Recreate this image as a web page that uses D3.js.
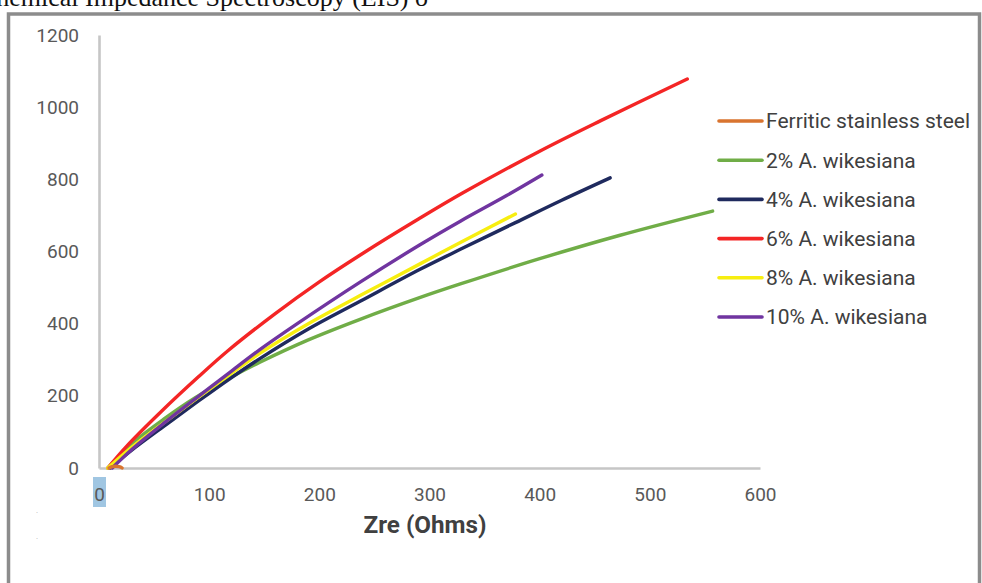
<!DOCTYPE html>
<html>
<head>
<meta charset="utf-8">
<script src="https://cdn.jsdelivr.net/npm/d3@7"></script>
<style>
  html, body { margin: 0; padding: 0; background: #fff; }
  svg { display: block; }
</style>
</head>
<body>
<div id="chart"></div>
<script>
// ----------------------------
// Data (Nyquist curves)
// ----------------------------
const seriesNames = [
  'Ferritic stainless steel',
  '2% A. wikesiana',
  '4% A. wikesiana',
  '6% A. wikesiana',
  '8% A. wikesiana',
  '10% A. wikesiana'
];
const seriesColors = ['#d9742f', '#70ad47', '#1f2a5e', '#f42525', '#f7ee10', '#7035a0'];

const ferritic = [[9, 0], [12, 4], [15, 5], [18, 4], [20, 2], [21, 0]];
const aw2 = [[8, 0], [30, 68], [60, 138], [87, 194], [120, 252], [146, 293], [190, 355], [237, 412], [291, 472], [328, 510], [400, 580], [473, 645], [557, 712]];
const aw4 = [[10, 0], [30, 50], [60, 118], [90, 185], [120, 250], [146, 303], [190, 385], [237, 462], [291, 550], [328, 606], [378, 680], [420, 742], [464, 804]];
const aw6 = [[8, 0], [25, 60], [57, 158], [90, 252], [117, 325], [160, 428], [200, 516], [240, 596], [290, 690], [330, 762], [400, 878], [455, 962], [534, 1078]];
const aw8 = [[8, 0], [30, 58], [60, 128], [90, 196], [120, 262], [146, 318], [190, 400], [237, 478], [291, 565], [328, 625], [378, 704]];
const aw10 = [[12, 0], [30, 52], [60, 127], [90, 198], [120, 268], [146, 328], [180, 400], [237, 515], [291, 618], [328, 684], [370, 755], [402, 812]];

const seriesData = [ferritic, aw2, aw4, aw6, aw8, aw10];
// draw order so the picture's overlaps come out the same
const drawOrder = [1, 2, 3, 4, 5, 0];

const xTicks = [0, 100, 200, 300, 400, 500, 600];
const yTicks = [0, 200, 400, 600, 800, 1000, 1200];
const xTitle = 'Zre (Ohms)';
const pageTitle = 'Electrochemical Impedance Spectroscopy (EIS) o';

// ----------------------------
// SVG
// ----------------------------
const width = 982;
const height = 583;

const svg = d3.select('#chart')
  .append('svg')
  .attr('width', width)
  .attr('height', height);

// cut-off caption from the document above the figure
svg.append('text')
  .attr('x', 428)
  .attr('y', 6)
  .attr('text-anchor', 'end')
  .attr('font-family', '"Liberation Serif", "Times New Roman", serif')
  .attr('font-size', '26px')
  .attr('fill', '#111')
  .text(pageTitle);

// figure frame
svg.append('rect')
  .attr('x', 8.5)
  .attr('y', 14)
  .attr('width', 971)
  .attr('height', 600)
  .attr('fill', 'none')
  .attr('stroke', '#8c8c8c')
  .attr('stroke-width', 3.5);

// stray specks in the left margin
svg.selectAll('.speck')
  .data([511, 537])
  .enter()
  .append('text')
  .attr('class', 'speck')
  .attr('x', 37)
  .attr('y', d => d + 2)
  .attr('text-anchor', 'middle')
  .attr('font-size', '6px')
  .attr('fill', '#999')
  .text('.');

// ----------------------------
// Scales
// ----------------------------
const x = d3.scaleLinear().domain([0, 600]).range([99, 760]);
const y = d3.scaleLinear().domain([0, 1200]).range([468, 35]);

// selection highlight behind the x "0" label
svg.append('rect')
  .attr('x', x(0) - 6)
  .attr('y', 477)
  .attr('width', 13)
  .attr('height', 30)
  .attr('fill', '#a0c6e2');

// ----------------------------
// Axes
// ----------------------------
const tickFont = 'Roboto, "Noto Sans", sans-serif';

const yAxis = svg.append('g')
  .attr('transform', `translate(${x(0)},0)`)
  .call(d3.axisLeft(y).tickValues(yTicks).tickFormat(d3.format('d')).tickSize(0).tickPadding(20));

const xAxis = svg.append('g')
  .attr('transform', `translate(0,${y(0)})`)
  .call(d3.axisBottom(x).tickValues(xTicks).tickFormat(d3.format('d')).tickSize(0).tickPadding(19.5));

[yAxis, xAxis].forEach(g => {
  g.select('.domain')
    .attr('stroke', '#c6c6c6')
    .attr('stroke-width', 2.6);
  g.selectAll('text')
    .attr('font-family', tickFont)
    .attr('font-size', '19px')
    .attr('fill', '#595959');
});

svg.append('text')
  .attr('x', 425)
  .attr('y', 533)
  .attr('text-anchor', 'middle')
  .attr('font-family', tickFont)
  .attr('font-weight', 'bold')
  .attr('font-size', '24px')
  .attr('textLength', 123)
  .attr('lengthAdjust', 'spacingAndGlyphs')
  .attr('fill', '#404040')
  .text(xTitle);

// ----------------------------
// Curves
// ----------------------------
const line = d3.line()
  .x(d => x(d[0]))
  .y(d => y(d[1]))
  .curve(d3.curveCatmullRom.alpha(0.5));

svg.append('g')
  .selectAll('path')
  .data(drawOrder)
  .enter()
  .append('path')
  .attr('d', i => line(seriesData[i]))
  .attr('fill', 'none')
  .attr('stroke', i => seriesColors[i])
  .attr('stroke-width', 3.4)
  .attr('stroke-linecap', 'round')
  .attr('stroke-linejoin', 'round');

// ----------------------------
// Legend
// ----------------------------
const legend = svg.append('g')
  .selectAll('.legend-item')
  .data(seriesNames)
  .enter()
  .append('g')
  .attr('class', 'legend-item')
  .attr('transform', (d, i) => `translate(719,${121 + i * 39.2})`);

legend.append('line')
  .attr('x1', 0)
  .attr('x2', 43)
  .attr('stroke', (d, i) => seriesColors[i])
  .attr('stroke-width', 3.6)
  .attr('stroke-linecap', 'round');

legend.append('text')
  .attr('x', 47)
  .attr('dy', '0.35em')
  .attr('font-family', tickFont)
  .attr('font-size', '21px')
  .attr('fill', '#404040')
  .text(d => d);
</script>
</body>
</html>
